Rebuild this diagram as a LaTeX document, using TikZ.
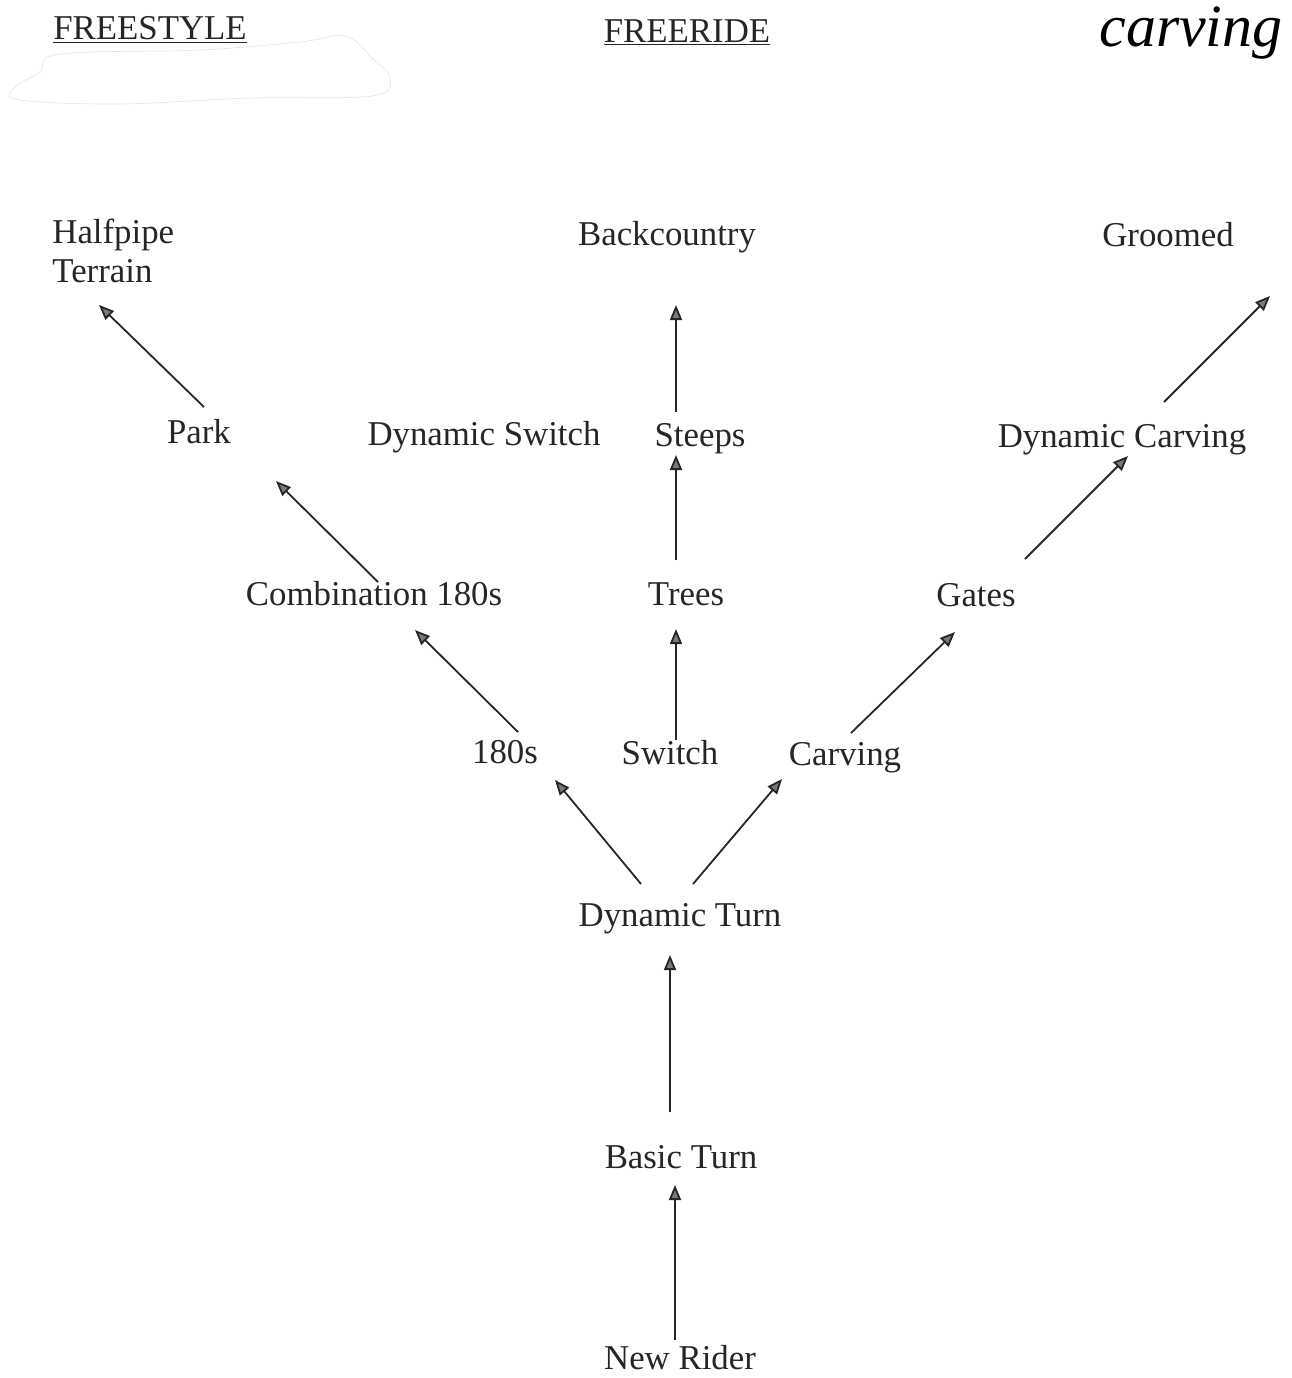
\documentclass[tikz,border=0pt]{standalone}
\usepackage{fontspec}
\setmainfont{Liberation Serif}
\usetikzlibrary{arrows.meta}
\definecolor{ink}{HTML}{262626}
\definecolor{headfill}{HTML}{7A7A7A}
\begin{document}
\begin{tikzpicture}[x=0.5pt,y=-0.5pt,
  lbl/.style={anchor=base,inner sep=0pt,text=ink,font=\fontsize{17.4}{19.5}\selectfont},
  arr/.style={draw=ink,line width=0.9pt,-{Triangle[length=7.5pt,width=6pt,fill=headfill]}}]
\useasboundingbox (0,0) rectangle (1292,1378);
% faint smudge under the heading
\draw[gray!22,line width=0.3pt] plot[smooth cycle,tension=0.6] coordinates
  {(60,54) (200,50) (300,42) (345,36) (372,58) (390,78) (372,96) (250,98) (120,104) (20,100) (14,88) (40,72)};
% headings
\node[lbl] (fs) at (150,39) {\underline{FREESTYLE}};
\node[lbl] (fr) at (687,42) {\underline{FREERIDE}};
\node[anchor=base,inner sep=0pt,font=\fontsize{30}{34}\selectfont\itshape] (cv) at (1191,46) {carving};
% nodes
\node[lbl,anchor=base west,align=left] (half) at (52,282) {Halfpipe\\Terrain};
\node[lbl] (back) at (667,245) {Backcountry};
\node[lbl] (groom) at (1168,246) {Groomed};
\node[lbl] (park) at (199,443) {Park};
\node[lbl] (dsw) at (484,445) {Dynamic Switch};
\node[lbl] (steeps) at (700,446) {Steeps};
\node[lbl] (dcarv) at (1122,447) {Dynamic Carving};
\node[lbl] (comb) at (374,605) {Combination 180s};
\node[lbl] (trees) at (686,605) {Trees};
\node[lbl] (gates) at (976,606) {Gates};
\node[lbl] (oneeighty) at (505,763) {180s};
\node[lbl] (switch) at (670,764) {Switch};
\node[lbl] (carv) at (845,765) {Carving};
\node[lbl] (dturn) at (680,926) {Dynamic Turn};
\node[lbl] (bturn) at (681,1168) {Basic Turn};
\node[lbl] (rider) at (680,1369) {New Rider};
% arrow end points
\coordinate (a1t) at (204,407);  \coordinate (a1h) at (99,305);
\coordinate (a2t) at (378,582);  \coordinate (a2h) at (276,481);
\coordinate (a3t) at (518,732);  \coordinate (a3h) at (415,630);
\coordinate (a4t) at (641,884);  \coordinate (a4h) at (555,780);
\coordinate (a5t) at (693,884);  \coordinate (a5h) at (782,779);
\coordinate (a6t) at (676,740);  \coordinate (a6h) at (676,629);
\coordinate (a7t) at (676,560);  \coordinate (a7h) at (676,455);
\coordinate (a8t) at (676,412);  \coordinate (a8h) at (676,305);
\coordinate (a9t) at (851,733);  \coordinate (a9h) at (955,632);
\coordinate (a10t) at (1025,559); \coordinate (a10h) at (1128,456);
\coordinate (a11t) at (1164,402); \coordinate (a11h) at (1270,296);
\coordinate (a12t) at (670,1112); \coordinate (a12h) at (670,955);
\coordinate (a13t) at (675,1340); \coordinate (a13h) at (675,1185);
\foreach \i in {1,...,13} \draw[arr] (a\i t) -- (a\i h);
\end{tikzpicture}
\end{document}
